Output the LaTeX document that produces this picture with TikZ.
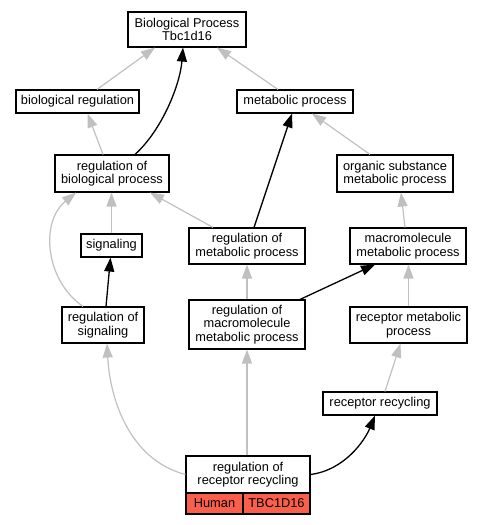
\documentclass[tikz,border=0pt]{standalone}
\usepackage{fontspec}
\setmainfont{Liberation Sans}
\usetikzlibrary{arrows.meta,calc}
\definecolor{edgegray}{HTML}{C0C0C0}
\definecolor{genefill}{HTML}{FA5F4B}
\begin{document}
\begin{tikzpicture}[x=1pt,y=-1pt,
  box/.style={draw=black, line width=1.1pt, fill=white, inner sep=0pt, align=center, font=\fontsize{12.8}{13.5}\selectfont},
  gene/.style={box, fill=genefill},
  gedge/.style={draw=edgegray, line width=1.2pt, -{Triangle[length=14pt,width=10pt]}},
  bedge/.style={draw=black, line width=1.3pt, -{Triangle[length=14pt,width=10pt]}}]
\useasboundingbox (0,0) rectangle (484,525);
% nodes
\node[box, minimum width=118pt, minimum height=35pt] (top) at (187,29.5) {Biological Process\\Tbc1d16};
\node[box, minimum width=123pt, minimum height=23pt] (bioreg) at (77.5,101.5) {biological regulation};
\node[box, minimum width=116pt, minimum height=23pt] (metproc) at (295,101.5) {metabolic process};
\node[box, minimum width=114pt, minimum height=37pt] (regbio) at (112,173.5) {regulation of\\biological process};
\node[box, minimum width=116pt, minimum height=37pt] (org) at (395,173.5) {organic substance\\metabolic process};
\node[box, minimum width=61pt, minimum height=23pt] (sig) at (111.5,245.5) {signaling};
\node[box, minimum width=116pt, minimum height=36pt] (regmet) at (247,246) {regulation of\\metabolic process};
\node[box, minimum width=116pt, minimum height=36pt] (macro) at (408,246) {macromolecule\\metabolic process};
\node[box, minimum width=82pt, minimum height=36pt] (regsig) at (103,325) {regulation of\\signaling};
\node[box, minimum width=116pt, minimum height=49pt] (regmacro) at (247,324.5) {regulation of\\macromolecule\\metabolic process};
\node[box, minimum width=117pt, minimum height=36pt] (recmet) at (408.5,325) {receptor metabolic\\process};
\node[box, minimum width=114pt, minimum height=23pt] (recrec) at (380,403.5) {receptor recycling};
\node[box, minimum width=124pt, minimum height=37pt] (bot) at (248,474.5) {regulation of\\receptor recycling};
\node[gene, minimum width=57pt, minimum height=21pt] (human) at (214.5,503.5) {Human};
\node[gene, minimum width=67pt, minimum height=21pt] (gene) at (276.5,503.5) {TBC1D16};
% edges
\draw[gedge] ([xshift=19.5pt]bioreg.north) -- ([xshift=-32pt]top.south);
\draw[bedge] ([xshift=23pt]regbio.north) .. controls (162,130) and (180,85) .. ([xshift=-4pt]top.south);
\draw[gedge] ([xshift=-17pt]metproc.north) -- ([xshift=30pt]top.south);
\draw[gedge] ([xshift=-9pt]regbio.north) -- ([xshift=10pt]bioreg.south);
\draw[bedge] ([xshift=7pt]regmet.north) -- ([xshift=-3pt]metproc.south);
\draw[gedge] ([xshift=-25pt]org.north) -- ([xshift=17pt]metproc.south);
\draw[gedge] (sig.north) -- (sig.north |- regbio.south);
\draw[gedge] ([xshift=-34pt]regmet.north) -- ([xshift=38pt]regbio.south);
\draw[gedge] ([xshift=-20pt]regsig.north) .. controls (45,280) and (40,222) .. ([xshift=-36pt]regbio.south);
\draw[gedge] ([xshift=-3pt]macro.north) -- ([xshift=6pt]org.south);
\draw[bedge] ([xshift=3pt]regsig.north) -- ([xshift=-1pt]sig.south);
\draw[gedge] (regmacro.north) -- (regmet.south);
\draw[bedge] ([xshift=53pt]regmacro.north) -- ([xshift=-33pt]macro.south);
\draw[gedge] (recmet.north) -- (recmet.north |- macro.south);
\draw[gedge] ([xshift=5pt]recrec.north) -- ([xshift=-8pt]recmet.south);
\draw[gedge] (bot.west) .. controls (130,460) and (110,400) .. ([xshift=4pt]regsig.south);
\draw[gedge] (regmacro.south |- bot.north) -- (regmacro.south);
\draw[bedge] (bot.east) .. controls (345,470) and (365,440) .. ([xshift=-5pt]recrec.south);
\end{tikzpicture}
\end{document}
